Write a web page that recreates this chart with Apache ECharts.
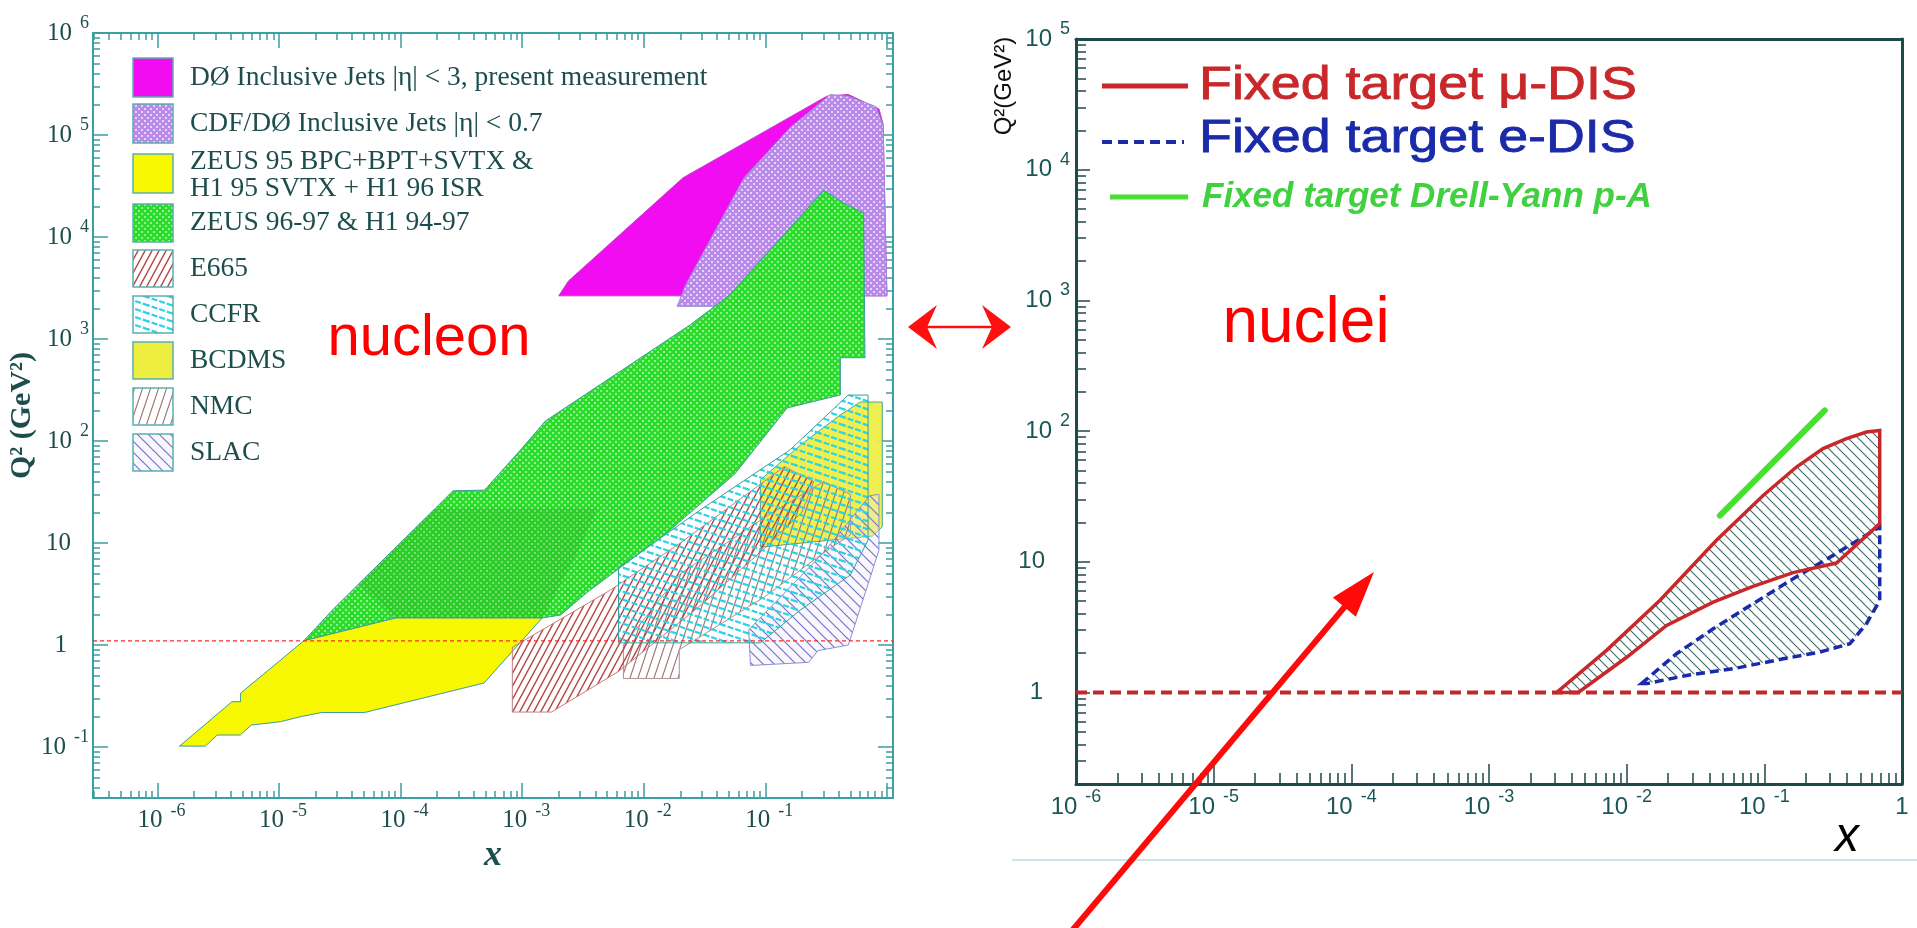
<!DOCTYPE html>
<html><head><meta charset="utf-8">
<script src="https://cdn.jsdelivr.net/npm/echarts@6/dist/echarts.min.js"></script>
<style>html,body{margin:0;padding:0;background:#fff}#c{width:1917px;height:928px}</style>
</head><body><div id="c"></div>
<script>
// ===== DATA (x, Q^2 [GeV^2]) =====
// left panel: nucleon
const d0Jets    = [[2.0e-3,2650],[2.4e-3,3700],[2.1e-2,3.8e4],[0.32,2.4e5],[0.48,2.5e5],[0.86,1.8e5],[0.93,1.28e5],[1.0,2650]];
const cdfD0Jets = [[0.0188,2090],[0.0223,3470],[0.0671,3.84e4],[0.161,1.19e5],[0.341,2.49e5],[0.48,2.4e5],[0.81,1.9e5],[0.93,1.25e5],[1.0,2650],[0.050,2650],[0.050,2090]];
const zeusH1    = [[1.6e-5,1.1],[2.8e-5,2.25],[2.7e-4,32.5],[4.9e-4,33],[9.8e-4,83],[1.55e-3,157],[0.0237,1360],[0.050,2650],[0.303,2.87e4],[0.455,2.1e4],[0.644,1.72e4],[0.66,655],[0.414,655],[0.414,283],[0.151,211],[0.0565,48],[0.0158,12.8],[3.5e-3,3.35],[2.07e-3,1.97],[1.46e-3,1.84],[9.1e-5,1.84]];
const zeusH1Core= [[1.9e-4,21.7],[4.2e-3,21.7],[2.6e-3,6.5],[1.46e-3,1.84],[9.1e-5,1.84],[4.5e-5,4.0]];
const zeus95    = [[1.52e-6,0.102],[4.1e-6,0.278],[4.82e-6,0.278],[4.82e-6,0.336],[1.6e-5,1.1],[9.1e-5,1.84],[1.46e-3,1.84],[4.86e-4,0.424],[5.07e-5,0.218],[2.25e-5,0.218],[1.5e-5,0.198],[1.03e-5,0.177],[5.9e-6,0.164],[4.8e-6,0.131],[3.1e-6,0.131],[2.48e-6,0.102]];
const e665      = [[8.3e-4,0.95],[8.3e-4,0.22],[1.74e-3,0.22],[6.2e-3,0.55],[0.03,2.5],[0.1,9],[0.2,20],[0.25,40],[0.143,56],[0.02,10],[5.2e-3,3.4]];
const ccfr      = [[6.2e-3,5.7],[6.2e-3,1.05],[0.091,1.05],[0.194,2.2],[0.5,4.85],[0.7,10.7],[0.7,282],[0.48,282],[0.16,82],[0.029,21]];
const bcdms     = [[0.091,9.1],[0.091,41.5],[0.194,91],[0.414,180],[0.604,241],[0.916,241],[0.916,14.4],[0.76,11.7]];
const nmc       = [[6.8e-3,1.0],[6.8e-3,0.47],[0.0196,0.47],[0.0196,0.9],[0.1,3],[0.3,8],[0.5,12],[0.5,30],[0.3,40],[0.1,18],[0.02,5]];
const slac      = [[0.073,1.41],[0.0755,0.63],[0.227,0.676],[0.27,0.88],[0.482,1.0],[0.86,8.5],[0.86,30],[0.72,29],[0.3,8]];
const leftQ2Line = 1.1;
// right panel: nuclei
const muDIS = [[3.1e-3,1.0],[4.45e-3,1.0],[0.01,1.86],[0.0195,3.26],[0.0425,4.91],[0.0828,6.49],[0.162,8.26],[0.334,9.78],[0.689,19.6],[0.689,101],[0.552,98.5],[0.395,87.7],[0.267,73.5],[0.171,53.1],[0.098,32.2],[0.0449,14.6],[0.0174,5.06],[7.14e-3,2.10]];
const eDIS  = [[0.0128,1.17],[0.023,1.98],[0.0425,3.07],[0.0828,4.78],[0.162,7.43],[0.316,11.2],[0.689,18.5],[0.689,5.06],[0.552,3.36],[0.418,2.36],[0.253,2.04],[0.137,1.81],[0.0594,1.52],[0.0272,1.35],[0.014,1.17]];
const drellYan = [[0.0475,22.6],[0.275,144]];
const rightQ2Line = 1.0;
// tick labels (decade exponents)
const leftXTicks  = [-6,-5,-4,-3,-2,-1];
const leftYTicks  = [-1,0,1,2,3,4,5,6];
const rightXTicks = [-6,-5,-4,-3,-2,-1,0];
const rightYTicks = [0,1,2,3,4,5];
// legend texts
const leftLegend = [
  ['DØ Inclusive Jets |η| < 3, present measurement'],
  ['CDF/DØ Inclusive Jets |η| < 0.7'],
  ['ZEUS 95 BPC+BPT+SVTX &','H1 95 SVTX + H1 96 ISR'],
  ['ZEUS 96-97 & H1 94-97'],
  ['E665'],['CCFR'],['BCDMS'],['NMC'],['SLAC']
];
const rightLegend = ['Fixed target μ-DIS','Fixed target e-DIS','Fixed target Drell-Yann p-A'];

// ===== ranges / helpers =====
const L = {xMin:-6.53, xMax:0.05, yMin:-1.5, yMax:6};
const R = {xMin:-6, xMax:0, yMin:-0.7, yMax:5};
const lg = v => Math.log10(v);
function minorTicks(lo, hi){const o=[];for(let n=Math.floor(lo);n<=Math.ceil(hi);n++)for(let k=2;k<=9;k++){const v=n+Math.log10(k);if(v>lo+1e-6&&v<hi-1e-6)o.push(v);}return o;}

function makePattern(w,h,draw){const c=document.createElement('canvas');c.width=w;c.height=h;const g=c.getContext('2d');draw(g,w,h);return {image:c,repeat:'repeat'};}
function linesPat(w,h,dir,color,lw,bg,dash){return makePattern(w,h,g=>{if(bg){g.fillStyle=bg;g.fillRect(0,0,w,h);}g.strokeStyle=color;g.lineWidth=lw;if(dash)g.setLineDash(dash);g.beginPath();for(let i=-2;i<=2;i++)for(let j=-2;j<=2;j++){if(dir==='/'){g.moveTo(i*w,j*h+h);g.lineTo(i*w+w,j*h);}else{g.moveTo(i*w,j*h);g.lineTo(i*w+w,j*h+h);}}g.stroke();});}
function dotsPat(bg,dot,s){return makePattern(s,s,g=>{g.fillStyle=bg;g.fillRect(0,0,s,s);g.fillStyle=dot;g.fillRect(0,0,2,2);g.fillRect(s/2,s/2,2,2);});}

const P = {
  magenta: '#f20cf2',
  purple: dotsPat('#b98aea','#e6d4fb',6),
  green: dotsPat('#2bdc2b','#8ff08f',6),
  greenCore: 'rgba(40,150,20,0.2)',
  yellow: '#f8f800',
  e665: linesPat(7,13,'/','#b54545',1.4,null),
  ccfr: linesPat(24,8,'\\','#2ad2e2',2.2,null,[6,2]),
  bcdms: '#eeee40',
  nmc: linesPat(8,24,'/','#a07070',1.1,null),
  slac: linesPat(11,11,'\\','#6a78d0',1.2,'rgba(245,232,245,0.35)'),
  rightHatch: linesPat(10,10,'\\','#3d6a6a',1.1,null)
};

const tealL='#3a9f9f', labL='#1d4d4d', axR='#1f4a4a', labR='#1b5656';
const serif="'Liberation Serif','DejaVu Serif',serif";
const sans="'Liberation Sans','DejaVu Sans',Arial,sans-serif";

function polySeries(name,pts,xi,yi,style,z){
  return {type:'custom',name,xAxisIndex:xi,yAxisIndex:yi,z,silent:true,clip:true,
    data:pts.map(p=>[lg(p[0]),lg(p[1])]),
    renderItem:(params,api)=>{
      if(params.dataIndex!==0)return null;
      return {type:'polygon',shape:{points:pts.map(p=>api.coord([lg(p[0]),lg(p[1])]))},style:Object.assign({},style)};
    }};
}

const base={type:'value',splitLine:{show:false},axisLine:{show:false,onZero:false},axisTick:{show:false},axisLabel:{show:false}};
function ax(o){return Object.assign({},base,o);}
const richL={b:{fontFamily:serif,fontSize:25,lineHeight:25,color:labL,verticalAlign:'bottom'},
             e:{fontFamily:serif,fontSize:18,lineHeight:18,color:labL,padding:[0,0,13,8],verticalAlign:'bottom'},
             p1:{fontSize:18,lineHeight:18,padding:[0,22,13,0],verticalAlign:'bottom'},
             p2:{fontSize:18,lineHeight:18,padding:[0,18,13,0],verticalAlign:'bottom'}};
const richLX=Object.assign({},richL,{b:Object.assign({},richL.b,{padding:[0,0,0,8]})});
const richR={b:{fontFamily:sans,fontSize:24,lineHeight:24,color:labR,verticalAlign:'bottom'},
             e:{fontFamily:sans,fontSize:18,lineHeight:18,color:labR,padding:[0,0,13,8],verticalAlign:'bottom'},
             p0:{fontSize:18,lineHeight:18,padding:[0,0,13,0],verticalAlign:'bottom'},
             p1:{fontSize:18,lineHeight:18,padding:[0,27,13,0],verticalAlign:'bottom'},
             p2:{fontSize:18,lineHeight:18,padding:[0,25,13,0],verticalAlign:'bottom'}};
const ZW='\u200b';
function fmtY(v){const n=Math.round(v);if(n===0)return '{b|1}{p1|'+ZW+'}';if(n===1)return '{b|10}{p2|'+ZW+'}';return '{b|10}{e|'+n+'}';}
function fmtX(v){const n=Math.round(v);if(n===0)return '{b|1}{p0|'+ZW+'}';return '{b|10}{e|'+n+'}';}

const lxMaj=[...leftXTicks,0], lyMaj=leftYTicks;
const lxMin=minorTicks(L.xMin,L.xMax), lyMin=minorTicks(L.yMin,L.yMax);
const rxMin=minorTicks(R.xMin,R.xMax), ryMin=minorTicks(R.yMin,R.yMax);
const tkL=(vals,len)=>({show:true,inside:true,length:len,customValues:vals,lineStyle:{color:tealL,width:1.5}});
const tkR=(vals,len)=>({show:true,inside:true,length:len,customValues:vals,lineStyle:{color:axR,width:1.5}});

const xAxis=[
  ax({gridIndex:0,min:L.xMin,max:L.xMax,position:'bottom',axisLine:{show:true,onZero:false,lineStyle:{color:tealL,width:2}},axisTick:tkL(lxMaj,15),
      axisLabel:{show:true,customValues:leftXTicks,formatter:fmtX,rich:richLX,margin:10},
      name:'x',nameLocation:'middle',nameGap:38,nameTextStyle:{fontFamily:serif,fontSize:36,fontStyle:'italic',fontWeight:'bold',color:labL}}),
  ax({gridIndex:0,min:L.xMin,max:L.xMax,position:'bottom',axisTick:tkL(lxMin,7)}),
  ax({gridIndex:0,min:L.xMin,max:L.xMax,position:'top',axisLine:{show:true,onZero:false,lineStyle:{color:tealL,width:2}},axisTick:tkL(lxMaj,15)}),
  ax({gridIndex:0,min:L.xMin,max:L.xMax,position:'top',axisTick:tkL(lxMin,7)}),
  ax({gridIndex:1,min:R.xMin,max:R.xMax,position:'bottom',axisLine:{show:true,onZero:false,lineStyle:{color:axR,width:3}},axisTick:tkR(rightXTicks,20),
      axisLabel:{show:true,customValues:rightXTicks,formatter:fmtX,rich:richR,margin:11}}),
  ax({gridIndex:1,min:R.xMin,max:R.xMax,position:'bottom',axisTick:tkR(rxMin,11)}),
  ax({gridIndex:1,min:R.xMin,max:R.xMax,position:'top',axisLine:{show:true,onZero:false,lineStyle:{color:axR,width:3}}})
];
const yAxis=[
  ax({gridIndex:0,min:L.yMin,max:L.yMax,position:'left',axisLine:{show:true,onZero:false,lineStyle:{color:tealL,width:2}},axisTick:tkL(lyMaj,15),
      axisLabel:{show:true,customValues:leftYTicks,formatter:fmtY,rich:richL,margin:4,align:'right'},
      name:'Q² (GeV²)',nameLocation:'middle',nameGap:52,nameRotate:90,nameTextStyle:{fontFamily:serif,fontSize:30,fontWeight:'bold',color:labL}}),
  ax({gridIndex:0,min:L.yMin,max:L.yMax,position:'left',axisTick:tkL(lyMin,7)}),
  ax({gridIndex:0,min:L.yMin,max:L.yMax,position:'right',axisLine:{show:true,onZero:false,lineStyle:{color:tealL,width:2}},axisTick:tkL(lyMaj,15)}),
  ax({gridIndex:0,min:L.yMin,max:L.yMax,position:'right',axisTick:tkL(lyMin,7)}),
  ax({gridIndex:1,min:R.yMin,max:R.yMax,position:'left',axisLine:{show:true,onZero:false,lineStyle:{color:axR,width:3}},axisTick:tkR(rightYTicks,14),
      axisLabel:{show:true,customValues:rightYTicks,formatter:fmtY,rich:richR,margin:6,align:'right'}}),
  ax({gridIndex:1,min:R.yMin,max:R.yMax,position:'left',axisTick:tkR(ryMin,10)}),
  ax({gridIndex:1,min:R.yMin,max:R.yMax,position:'right',axisLine:{show:true,onZero:false,lineStyle:{color:axR,width:3}}})
];

const edge={stroke:'#3a9e9e',lineWidth:1};
const series=[
  polySeries('DØ Inclusive Jets',d0Jets,0,0,Object.assign({fill:P.magenta},edge,{stroke:'#c040c0'}),3),
  polySeries('CDF/DØ Inclusive Jets',cdfD0Jets,0,0,Object.assign({fill:P.purple},edge,{stroke:'#9a8ad8'}),4),
  polySeries('ZEUS 96-97 & H1 94-97',zeusH1,0,0,Object.assign({fill:P.green},edge),5),
  polySeries('ZEUS/H1 overlap',zeusH1Core,0,0,{fill:P.greenCore,lineWidth:0},6),
  polySeries('ZEUS 95',zeus95,0,0,Object.assign({fill:P.yellow},edge),7),
  polySeries('BCDMS',bcdms,0,0,Object.assign({fill:P.bcdms,opacity:0.92},edge),8),
  polySeries('SLAC',slac,0,0,Object.assign({fill:P.slac},edge,{stroke:'#8a90d0'}),9),
  polySeries('NMC',nmc,0,0,Object.assign({fill:P.nmc},edge,{stroke:'#b09090'}),10),
  polySeries('E665',e665,0,0,Object.assign({fill:P.e665},edge,{stroke:'#c08080'}),11),
  polySeries('CCFR',ccfr,0,0,Object.assign({fill:P.ccfr},edge),12),
  {type:'line',xAxisIndex:0,yAxisIndex:0,z:13,silent:true,showSymbol:false,data:[[L.xMin,lg(leftQ2Line)],[L.xMax,lg(leftQ2Line)]],lineStyle:{color:'#ff2a2a',width:1.2,type:[4,3]}},
  // right
  polySeries('μ-DIS hatch',muDIS,4,4,{fill:P.rightHatch,lineWidth:0},3),
  polySeries('e-DIS hatch',eDIS,4,4,{fill:P.rightHatch,lineWidth:0},3),
  {type:'line',xAxisIndex:4,yAxisIndex:4,z:4,silent:true,showSymbol:false,data:[[R.xMin,lg(rightQ2Line)],[R.xMax,lg(rightQ2Line)]],lineStyle:{color:'#c0282e',width:4,type:[11,6]}},
  polySeries('e-DIS',eDIS,4,4,{fill:'none',stroke:'#1a2aa8',lineWidth:3.5,lineDash:[9,5]},5),
  polySeries('μ-DIS',muDIS,4,4,{fill:'none',stroke:'#c8282a',lineWidth:3.5},6),
  {type:'line',xAxisIndex:4,yAxisIndex:4,z:7,silent:true,showSymbol:false,data:drellYan.map(p=>[lg(p[0]),lg(p[1])]),lineStyle:{color:'#48e030',width:6,cap:'round'}}
];

// legend (left) and annotations
const graphic=[];
const legendFills=[P.magenta,P.purple,P.yellow,P.green,P.e665,P.ccfr,P.bcdms,P.nmc,P.slac];
const boxTops=[58,104,154,204,250,296,342,388,434];
const boxH=[39,39,39,38,37,37,37,37,37];
const legFont='27.5px '+serif;
leftLegend.forEach((lines,i)=>{
  graphic.push({type:'rect',shape:{x:133,y:boxTops[i],width:40,height:boxH[i]},style:{fill:'#fff',stroke:'none'},z:20});
  graphic.push({type:'rect',shape:{x:133,y:boxTops[i],width:40,height:boxH[i]},style:{fill:legendFills[i],stroke:'#5ab0b0',lineWidth:1.5},z:21});
  const cy=boxTops[i]+boxH[i]/2;
  if(lines.length===1){
    graphic.push({type:'text',x:190,y:cy,z:21,style:{text:lines[0],font:legFont,fill:labL,textVerticalAlign:'middle'}});
  }else{
    graphic.push({type:'text',x:190,y:cy-12,z:21,style:{text:lines[0],font:legFont,fill:labL,textVerticalAlign:'middle'}});
    graphic.push({type:'text',x:190,y:cy+15,z:21,style:{text:lines[1],font:legFont,fill:labL,textVerticalAlign:'middle'}});
  }
});
// right legend
graphic.push({type:'line',shape:{x1:1102,y1:86,x2:1188,y2:86},style:{stroke:'#c8282a',lineWidth:5},z:21});
graphic.push({type:'line',shape:{x1:1102,y1:142,x2:1184,y2:142},style:{stroke:'#1a2aa8',lineWidth:4,lineDash:[10,6]},z:21});
graphic.push({type:'line',shape:{x1:1110,y1:197,x2:1188,y2:197},style:{stroke:'#48e030',lineWidth:5},z:21});
graphic.push({type:'text',x:1199,y:86,scaleX:1.17,z:21,style:{text:rightLegend[0],font:'46px '+sans,fill:'#c8282a',stroke:'#c8282a',lineWidth:0.8,textVerticalAlign:'middle'}});
graphic.push({type:'text',x:1199,y:139,scaleX:1.17,z:21,style:{text:rightLegend[1],font:'46px '+sans,fill:'#1a2aa8',stroke:'#1a2aa8',lineWidth:0.8,textVerticalAlign:'middle'}});
graphic.push({type:'text',x:1202,y:197,z:21,style:{text:rightLegend[2],font:'italic bold 35px '+sans,fill:'#40d040',textVerticalAlign:'middle'}});
// panel words
graphic.push({type:'text',x:429,y:339,z:22,style:{text:'nucleon',font:'58px '+sans,fill:'#ff0000',textAlign:'center',textVerticalAlign:'middle'}});
graphic.push({type:'text',x:1306,y:324,z:22,style:{text:'nuclei',font:'64px '+sans,fill:'#ff0000',textAlign:'center',textVerticalAlign:'middle'}});
// right axis titles
graphic.push({type:'text',x:1004,y:86,rotation:Math.PI/2,z:22,style:{text:'Q²(GeV²)',font:'24px '+sans,fill:'#111',textAlign:'center',textVerticalAlign:'middle'}});
graphic.push({type:'text',x:1847,y:838,z:22,style:{text:'x',font:'italic 48px '+sans,fill:'#000',textAlign:'center',textVerticalAlign:'middle'}});
// separator line under right panel
graphic.push({type:'line',shape:{x1:1012,y1:860,x2:1917,y2:860},style:{stroke:'#b8dcdf',lineWidth:1.5},z:1});
// double arrow
graphic.push({type:'line',shape:{x1:925,y1:327,x2:994,y2:327},style:{stroke:'#ff1010',lineWidth:2.5},z:22});
graphic.push({type:'polygon',shape:{points:[[908,327],[937,305],[927,327],[937,349]]},style:{fill:'#ff1010'},z:22});
graphic.push({type:'polygon',shape:{points:[[1011,327],[982,305],[992,327],[982,349]]},style:{fill:'#ff1010'},z:22});
// big red arrow
(function(){const x0=1060,y0=945,x1=1374,y1=572;const dx=x1-x0,dy=y1-y0,len=Math.hypot(dx,dy),ux=dx/len,uy=dy/len,nx=-uy,ny=ux;const hl=46,hw=15;
  const bx=x1-ux*hl,by=y1-uy*hl;
  graphic.push({type:'line',shape:{x1:x0,y1:y0,x2:bx+ux*4,y2:by+uy*4},style:{stroke:'#ff0a0a',lineWidth:6},z:23});
  graphic.push({type:'polygon',shape:{points:[[x1,y1],[bx+nx*hw,by+ny*hw],[bx-nx*hw,by-ny*hw]]},style:{fill:'#ff0a0a'},z:23});
})();

const chart=echarts.init(document.getElementById('c'),null,{renderer:'canvas'});
chart.setOption({
  animation:false,backgroundColor:'#ffffff',
  grid:[{left:93,top:33,width:800,height:765,containLabel:false},{left:1076,top:39,width:826,height:745,containLabel:false}],
  xAxis,yAxis,series,graphic
});
</script></body></html>
